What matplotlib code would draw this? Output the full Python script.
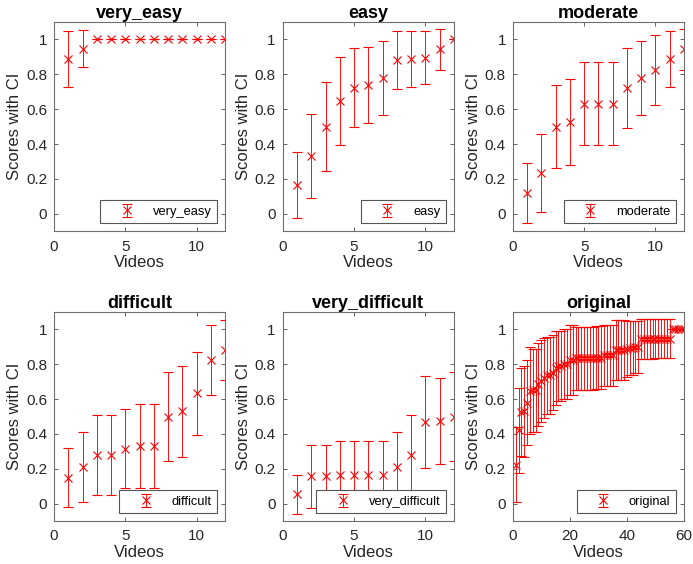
'''
plot_scores
-----------------------------------------------------------
scores with confidence intervals per difficulty level
'''
# Load packages -------------------------------------------
import numpy as np
import matplotlib
matplotlib.use('Agg')
import matplotlib.pyplot as plt
from matplotlib.ticker import FuncFormatter

# Data ----------------------------------------------------
# very_easy:
very_easy_score = [0.889, 0.947, 1, 1, 1, 1, 1, 1, 1, 1, 1, 1]
very_easy_ci = [0.16, 0.107, 0, 0, 0, 0, 0, 0, 0, 0, 0, 0]

# easy:
easy_score = [0.167, 0.333, 0.5, 0.647, 0.722, 0.737, 0.778, 0.882,
              0.889, 0.895, 0.944, 1.0]
easy_ci = [0.19, 0.24, 0.254, 0.254, 0.227, 0.218, 0.212, 0.168,
           0.16, 0.152, 0.117, 0]

# moderate:
moderate_score = [0.118, 0.235, 0.5, 0.526, 0.632, 0.632, 0.632, 0.722,
                  0.778, 0.824, 0.889, 0.944]
moderate_ci = [0.171, 0.225, 0.24, 0.246, 0.237, 0.237, 0.237, 0.228,
               0.212, 0.201, 0.16, 0.117]

# difficult:
difficult_score = [0.15, 0.21, 0.278, 0.278, 0.316, 0.333, 0.333, 0.5,
                   0.529, 0.632, 0.824, 0.882]
difficult_ci = [0.171, 0.202, 0.229, 0.229, 0.228, 0.241, 0.241, 0.255,
                0.262, 0.236, 0.201, 0.17]

# very_difficult:
very_difficult_score = [0.053, 0.158, 0.158, 0.167, 0.167, 0.167, 0.167,
                        0.211, 0.278, 0.471, 0.474, 0.5]
very_difficult_ci = [0.11, 0.18, 0.18, 0.19, 0.19, 0.19, 0.19, 0.202,
                     0.229, 0.264, 0.247, 0.256]

# original (60 videos):
original_score = [0.222, 0.421, 0.526, 0.529, 0.579, 0.647, 0.65, 0.65,
                  0.684, 0.706, 0.722, 0.737, 0.737, 0.75, 0.778, 0.789,
                  0.789, 0.8, 0.8, 0.824, 0.824,
                  0.833, 0.833, 0.833, 0.833, 0.833, 0.833, 0.833,
                  0.838, 0.838, 0.838,
                  0.85, 0.85, 0.85, 0.85,
                  0.882, 0.882, 0.882, 0.882, 0.889,
                  0.895, 0.895, 0.9, 0.9,
                  0.944, 0.944, 0.944, 0.944, 0.944, 0.947, 0.947, 0.947,
                  0.947, 0.947, 0.947,
                  1, 1, 1, 1, 1]
original_ci = [0.215, 0.245, 0.25, 0.26, 0.245, 0.25, 0.24, 0.24,
               0.24, 0.235, 0.228, 0.22, 0.22, 0.215, 0.21, 0.2,
               0.2, 0.2, 0.2, 0.2, 0.2,
               0.18, 0.18, 0.18, 0.18, 0.18, 0.18, 0.18,
               0.18, 0.18, 0.18,
               0.175, 0.175, 0.175, 0.175,
               0.17, 0.17, 0.17, 0.17, 0.16,
               0.155, 0.155, 0.15, 0.15,
               0.115, 0.115, 0.115, 0.115, 0.115, 0.11, 0.11, 0.11,
               0.11, 0.11, 0.11,
               0, 0, 0, 0, 0]

names = ['very_easy', 'easy', 'moderate', 'difficult', 'very_difficult', 'original']
scores = [very_easy_score, easy_score, moderate_score,
          difficult_score, very_difficult_score, original_score]
cis = [very_easy_ci, easy_ci, moderate_ci,
       difficult_ci, very_difficult_ci, original_ci]

# Style ---------------------------------------------------
plt.rcParams['font.family'] = ['Liberation Sans', 'DejaVu Sans']
ax_col = '#262626'

# Axes positions (left, bottom, width, height):
lefts = [0.078, 0.408, 0.740]
bottoms = [0.590, 0.076]
w, h = 0.247, 0.371

# Plot ----------------------------------------------------
fig = plt.figure(figsize=(6.93, 5.64), dpi=100)

for i, name in enumerate(names):
    ax = fig.add_axes([lefts[i % 3], bottoms[i // 3], w, h])
    x = np.arange(1, len(scores[i]) + 1)
    ax.errorbar(
        x,
        scores[i],
        yerr=cis[i],
        fmt='x',
        color='red',
        ecolor='red',
        elinewidth=0.65,
        capsize=3.5,
        capthick=0.65,
        ms=5.5,
        mew=0.8,
        label=name
    )

    # set parameters:
    ax.set_xlim(0, 60 if len(scores[i]) > 12 else 12)
    ax.set_ylim(-0.1, 1.1)
    ax.set_yticks([0, 0.2, 0.4, 0.6, 0.8, 1])
    if len(scores[i]) > 12:
        ax.set_xticks([0, 20, 40, 60])
    else:
        ax.set_xticks([0, 5, 10])
    ax.yaxis.set_major_formatter(FuncFormatter(lambda v, p: '%g' % round(v, 2)))
    ax.tick_params(which='both', direction='in', top=True, right=True,
                   length=3, width=0.5, colors=ax_col, labelsize=11)
    ax.tick_params('x', pad=6)
    ax.tick_params('y', pad=5)
    for s in ax.spines.values():
        s.set_color('#6e6e6e')
        s.set_linewidth(0.8)
    ax.set_xlabel('Videos', fontsize=12, color=ax_col, labelpad=1)
    ax.set_ylabel('Scores with CI', fontsize=12, color=ax_col, labelpad=3)
    ax.set_title(name, fontsize=13, fontweight='bold', pad=2)

    leg = ax.legend(loc='lower right', fontsize=9.3, fancybox=False,
                    framealpha=1, edgecolor='#555555', handlelength=3.2,
                    handletextpad=0.4, borderpad=0.45,
                    borderaxespad=0.6)
    leg.get_frame().set_linewidth(0.8)

# Save plot:
plt.savefig('out.png', dpi=100)
